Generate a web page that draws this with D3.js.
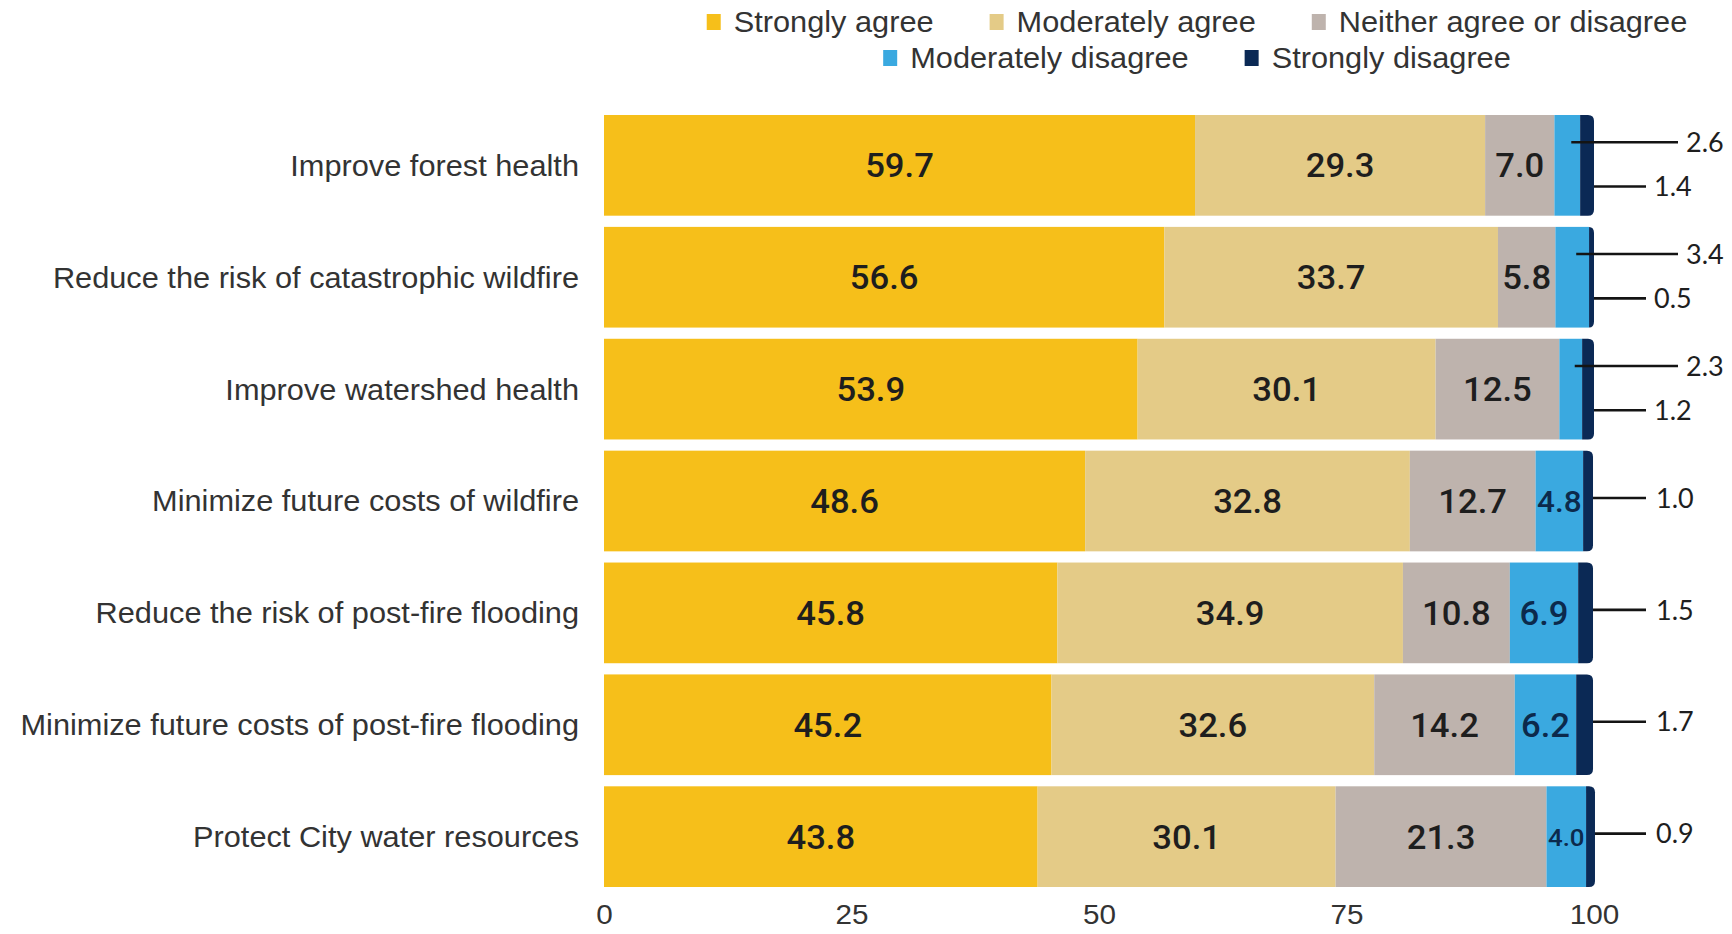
<!DOCTYPE html>
<html>
<head>
  <meta charset="utf-8">
  <title>Wildfire survey</title>
  <script src="https://d3js.org/d3.v7.min.js"></script>
  <style>
    body { margin: 0; background: #fff; }
  </style>
</head>
<body>
  <svg width="1732" height="934"></svg>

  <script>
    const categories = [
      "Improve forest health",
      "Reduce the risk of catastrophic wildfire",
      "Improve watershed health",
      "Minimize future costs of wildfire",
      "Reduce the risk of post-fire flooding",
      "Minimize future costs of post-fire flooding",
      "Protect City water resources"
    ];
    const strongAgree    = [59.7, 56.6, 53.9, 48.6, 45.8, 45.2, 43.8];
    const modAgree       = [29.3, 33.7, 30.1, 32.8, 34.9, 32.6, 30.1];
    const neither        = [7.0, 5.8, 12.5, 12.7, 10.8, 14.2, 21.3];
    const modDisagree    = [2.6, 3.4, 2.3, 4.8, 6.9, 6.2, 4.0];
    const strongDisagree = [1.4, 0.5, 1.2, 1.0, 1.5, 1.7, 0.9];

    const seriesNames = ["Strongly agree", "Moderately agree", "Neither agree or disagree",
                         "Moderately disagree", "Strongly disagree"];
    const seriesColors = ["#f6bf1a", "#e4cb87", "#beb3ad", "#3aa9e0", "#0b2955"];
    const legendRows = [[0, 1, 2], [3, 4]];
    const xTicks = [0, 25, 50, 75, 100];

    // build table for d3.stack
    const keys = ["sa", "ma", "ne", "md", "sd"];
    const table = categories.map((c, i) => ({
      cat: c, sa: strongAgree[i], ma: modAgree[i], ne: neither[i],
      md: modDisagree[i], sd: strongDisagree[i]
    }));
    const stacked = d3.stack().keys(keys)(table);

    const svg = d3.select("svg");
    const labelFont = "'Liberation Sans', Arial, sans-serif";
    const numFont = "Roboto, 'Open Sans', sans-serif";
    const calloutFont = "Lato, 'Open Sans', sans-serif";
    const stretch = 1.06;
    const labelSize = 29;

    const x = d3.scaleLinear().domain([0, 100]).range([604, 1594]);
    const y = d3.scaleBand().domain(categories).range([115, 887]).paddingInner(0.1);
    const bw = y.bandwidth();

    // segments
    const layers = svg.append("g").selectAll("g")
      .data(stacked)
      .enter().append("g")
      .attr("fill", (d, i) => seriesColors[i]);

    const r = 6;
    layers.each(function(layer, li) {
      const g = d3.select(this);
      if (li < keys.length - 1) {
        g.selectAll("rect")
          .data(layer)
          .enter().append("rect")
          .attr("x", d => x(d[0]))
          .attr("y", d => y(d.data.cat))
          .attr("width", d => x(d[1]) - x(d[0]))
          .attr("height", bw);
      } else {
        // last segment gets rounded right end
        g.selectAll("path")
          .data(layer)
          .enter().append("path")
          .attr("d", d => {
            const x0 = x(d[0]), x1 = x(d[1]);
            const y0 = y(d.data.cat), y1 = y0 + bw;
            const xr = Math.max(x0, x1 - r);
            return `M${x0},${y0} H${xr} Q${x1},${y0} ${x1},${y0 + r} V${y1 - r} Q${x1},${y1} ${xr},${y1} H${x0} Z`;
          });
      }
    });

    // value labels inside segments
    const inside = [];
    stacked.forEach((layer, li) => {
      layer.forEach((d, i) => {
        const v = d[1] - d[0];
        if (li <= 2 || (li === 3 && v >= 4)) {
          inside.push({ li, v, x0: x(d[0]), x1: x(d[1]), yc: y(d.data.cat) + bw / 2 });
        }
      });
    });

    const inSize = 33;
    svg.append("g").selectAll("text")
      .data(inside)
      .enter().append("text")
      .attr("transform", d => `translate(${(d.x0 + d.x1) / 2},${d.yc}) scale(1.05,1)`)
      .attr("dy", "0.36em")
      .attr("text-anchor", "middle")
      .style("font-family", numFont)
      .style("font-weight", "500")
      .style("font-size", inSize + "px")
      .attr("fill", d => d.li === 3 ? "#0c2a4c" : "#1e1e1e")
      .text(d => d.v.toFixed(1))
      .each(function(d) {
        // shrink to fit small segments
        const room = d.x1 - d.x0 - 3;
        const w = this.getComputedTextLength() * 1.05;
        if (w > room) d3.select(this).style("font-size", (inSize * room / w) + "px");
      });

    // callouts on the right
    const callG = svg.append("g");
    const lineEnd = 1646;
    table.forEach((row, i) => {
      const top = y(row.cat);
      const mdLayer = stacked[3][i];
      const sdLayer = stacked[4][i];
      const items = [];
      if (row.md < 4) {
        items.push({ x1: (x(mdLayer[0]) + x(mdLayer[1])) / 2 + 4, x2: 1678, yy: top + bw * 0.27, tx: 1686, v: row.md });
        items.push({ x1: x(sdLayer[1]), x2: lineEnd, yy: top + bw * 0.71, tx: 1654, v: row.sd });
      } else {
        items.push({ x1: x(sdLayer[1]), x2: lineEnd, yy: top + bw * 0.47, tx: 1656, v: row.sd });
      }
      items.forEach(it => {
        callG.append("line")
          .attr("x1", it.x1).attr("x2", it.x2)
          .attr("y1", it.yy).attr("y2", it.yy)
          .attr("stroke", "#141414")
          .attr("stroke-width", 2.6);
        callG.append("text")
          .attr("x", it.tx)
          .attr("y", it.yy)
          .attr("dy", "0.36em")
          .style("font-family", calloutFont)
          .style("font-size", "27px")
          .attr("fill", "#1e1e1e")
          .text(it.v.toFixed(1));
      });
    });

    // category labels
    svg.append("g").selectAll("text")
      .data(categories)
      .enter().append("text")
      .attr("transform", d => `translate(579,${y(d) + bw / 2}) scale(${stretch},1)`)
      .attr("dy", "0.36em")
      .attr("text-anchor", "end")
      .style("font-family", labelFont)
      .style("font-size", labelSize + "px")
      .attr("fill", "#333")
      .text(d => d);

    // x axis, labels only
    const axis = svg.append("g")
      .attr("transform", "translate(0,887)")
      .call(d3.axisBottom(x).tickValues(xTicks).tickSize(0).tickPadding(0));
    axis.select(".domain").remove();
    axis.selectAll("text")
      .attr("y", 0)
      .attr("transform", `translate(0,37) scale(${stretch},1)`)
      .attr("dy", 0)
      .style("font-family", labelFont)
      .style("font-size", "28px")
      .attr("fill", "#333");

    // legend
    const legendCx = 1197;
    const legendBase = [32, 68];
    const legend = svg.append("g");
    legendRows.forEach((row, ri) => {
      const rowG = legend.append("g");
      let cursor = 0;
      row.forEach((si, k) => {
        const it = rowG.append("g").attr("transform", `translate(${cursor},0)`);
        it.append("rect")
          .attr("x", 0).attr("y", legendBase[ri] - 18)
          .attr("width", 14).attr("height", 16)
          .attr("fill", seriesColors[si]);
        const t = it.append("text")
          .attr("transform", `translate(27,${legendBase[ri]}) scale(${stretch},1)`)
          .style("font-family", labelFont)
          .style("font-size", labelSize + "px")
          .attr("fill", "#333")
          .text(seriesNames[si]);
        cursor += 27 + t.node().getComputedTextLength() * stretch + 56;
      });
      const total = cursor - 56;
      rowG.attr("transform", `translate(${legendCx - total / 2},0)`);
    });
  </script>
</body>
</html>
